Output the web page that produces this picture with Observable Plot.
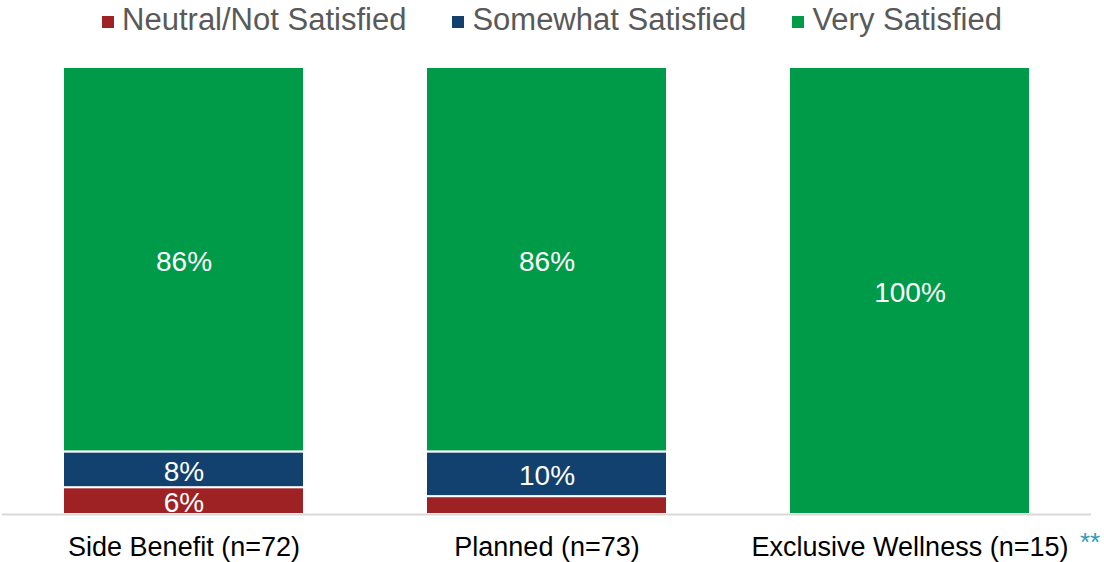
<!DOCTYPE html>
<html>
<head>
<meta charset="utf-8">
<script src="https://cdn.jsdelivr.net/npm/d3@7"></script>
<script src="https://cdn.jsdelivr.net/npm/@observablehq/plot@0.6"></script>
<style>
  html, body { margin: 0; padding: 0; background: #fff; }
  body { width: 1104px; height: 562px; position: relative; overflow: hidden; font-family: "Liberation Sans", Arial, sans-serif; }
  #legend { height: 40px; display: flex; justify-content: center; align-items: center; gap: 46px; font-size: 31px; color: #595959; padding-left: 0; }
  #legend .item { display: flex; align-items: center; }
  #legend .sw { width: 12px; height: 12px; margin-right: 8px; margin-top: 4px; }
  #note { position: absolute; left: 1080px; top: 527px; color: #2E9AB5; font-size: 26px; }
</style>
</head>
<body>
<div id="legend"></div>
<div id="chart"></div>
<div id="note">**</div>
<script>
const categories = ["Side Benefit (n=72)", "Planned (n=73)", "Exclusive Wellness (n=15)"];
const series = ["Neutral/Not Satisfied", "Somewhat Satisfied", "Very Satisfied"];
const colors = ["#9E2224", "#124170", "#009B48"];
const neutral = [6, 4, 0];
const somewhat = [8, 10, 0];
const very = [86, 86, 100];
const showLabel = [[true, false, false], [true, true, false], [true, true, true]];

const data = [];
[neutral, somewhat, very].forEach((vals, si) => {
  vals.forEach((v, ci) => {
    data.push({category: categories[ci], series: series[si], value: v, show: showLabel[si][ci] && v > 0});
  });
});

const legend = document.getElementById("legend");
series.forEach((s, i) => {
  const it = document.createElement("div");
  it.className = "item";
  it.innerHTML = `<span class="sw" style="background:${colors[i]}"></span><span>${s}</span>`;
  legend.appendChild(it);
});

const chart = Plot.plot({
  width: 1104,
  height: 522,
  marginTop: 27,
  marginBottom: 48,
  marginLeft: 2,
  marginRight: 13,
  style: {fontFamily: "Liberation Sans, Arial, sans-serif", background: "#fff"},
  x: {domain: categories, paddingInner: 0.336, paddingOuter: 0.168, label: null},
  y: {domain: [0, 100], axis: null},
  color: {domain: series, range: colors},
  marks: [
    Plot.barY(data, Plot.stackY({
      x: "category", y: "value", fill: "series", order: series,
      stroke: "white", strokeWidth: 2
    })),
    Plot.text(data, Plot.stackY({
      x: "category", y: "value", z: "series", order: series,
      text: d => d.show ? d.value + "%" : "", fill: "white", fontSize: 28, dy: 2
    })),
    Plot.ruleY([0], {stroke: "#D9D9D9", strokeWidth: 2}),
    Plot.axisX({tickSize: 0, tickPadding: 22, fontSize: 27, color: "#000", label: null})
  ]
});
document.getElementById("chart").appendChild(chart);
</script>
</body>
</html>
